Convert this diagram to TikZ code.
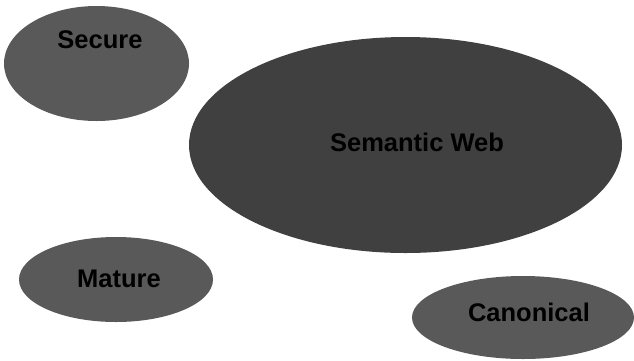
\documentclass[tikz,border=0pt]{standalone}
\usepackage{fontspec}
\setmainfont{Liberation Sans}
\usepackage{tikz}
\usetikzlibrary{shapes.geometric, positioning}
\definecolor{bubblegray}{HTML}{595959}
\definecolor{coregray}{HTML}{404040}
\tikzset{
    bubble/.style={ellipse, fill=bubblegray, draw=none, inner sep=0pt},
    core/.style={ellipse, fill=coregray, draw=none, inner sep=0pt},
    caption/.style={font=\fontsize{25.5}{30}\selectfont\bfseries, text=black, inner sep=0pt},
}

\begin{document}
\begin{tikzpicture}[x=1pt, y=-1pt]
    \useasboundingbox (0,0) rectangle (634,360);

    % Ellipses
    \node[bubble, minimum width=185, minimum height=115] (secure) at (96.5,63.5) {};
    \node[core, minimum width=433, minimum height=216] (semweb) at (405.5,145) {};
    \node[bubble, minimum width=194, minimum height=85] (mature) at (116,279.5) {};
    \node[bubble, minimum width=222, minimum height=83] (canonical) at (523,317.5) {};

    % Texts
    \node[caption] (securetext) at (100,40) {Secure};
    \node[caption] (semwebtext) at (417,142) {Semantic Web};
    \node[caption] (maturetext) at (119,279) {Mature};
    \node[caption] (canonicaltext) at (529,312) {Canonical};
\end{tikzpicture}
\end{document}
